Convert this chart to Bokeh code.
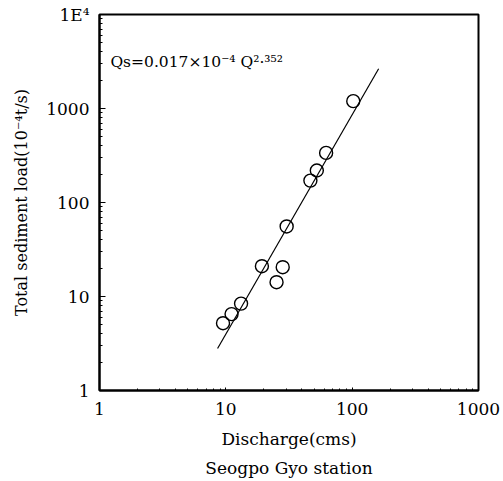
from bokeh.plotting import figure
from bokeh.models import Title, Label, FixedTicker
from bokeh.embed import file_html
from bokeh.resources import INLINE

# Data
discharge = [9.5, 11.1, 13.2, 19.3, 25.2, 28.2, 30.3, 46.7, 52.5, 62.2, 102]
sediment = [5.2, 6.5, 8.4, 21, 14.2, 20.5, 55.6, 171, 219, 337, 1197]
fit_q = [8.6, 162]
fit_qs = [2.8, 2650]

x_ticks = [1, 10, 100, 1000]
x_labels = ["1", "10", "100", "1000"]
y_ticks = [1, 10, 100, 1000, 10000]
y_labels = ["1", "10", "100", "1000", "1E⁴"]

FONT = "DejaVu Serif"

p = figure(width=503, height=481, x_axis_type="log", y_axis_type="log",
           x_range=(1, 1000), y_range=(1, 10000),
           output_backend="svg", toolbar_location=None,
           min_border_left=99, min_border_right=25,
           min_border_top=14, min_border_bottom=10)
p.background_fill_color = "white"
p.border_fill_color = "white"
p.outline_line_color = "black"
p.outline_line_width = 2
p.grid.visible = False

def minors(ticks):
    out = []
    for t in ticks[:-1]:
        out += [t * k for k in range(2, 10)]
    return out

p.xaxis.ticker = FixedTicker(ticks=x_ticks, minor_ticks=minors(x_ticks))
p.yaxis.ticker = FixedTicker(ticks=y_ticks, minor_ticks=minors(y_ticks))
p.xaxis.major_label_overrides = {t: l for t, l in zip(x_ticks, x_labels)}
p.yaxis.major_label_overrides = {t: l for t, l in zip(y_ticks, y_labels)}

for ax in (p.xaxis, p.yaxis):
    ax.axis_line_color = "black"
    ax.axis_line_width = 2
    ax.major_tick_out = 0
    ax.minor_tick_out = 0
    ax.major_label_text_font = FONT
    ax.major_label_text_font_size = "17px"
    ax.major_label_text_color = "black"
    ax.axis_label_text_font = FONT
    ax.axis_label_text_font_style = "normal"
    ax.axis_label_text_color = "black"
p.yaxis.major_tick_in = 6
p.yaxis.minor_tick_in = 3
p.xaxis.major_tick_in = 3
p.xaxis.minor_tick_in = 2
p.yaxis.major_label_standoff = 10
p.xaxis.major_label_standoff = 12

p.xaxis.axis_label = "Discharge(cms)"
p.xaxis.axis_label_text_font_size = "17px"
p.xaxis.axis_label_standoff = 11
p.yaxis.axis_label = "Total sediment load(10⁻⁴t/s)"
p.yaxis.axis_label_text_font_size = "16px"
p.yaxis.axis_label_standoff = 12

p.line(fit_q, fit_qs, line_color="black", line_width=1.2)
p.scatter(discharge, sediment, marker="circle", size=13, fill_color=None,
          line_color="black", line_width=1.4)

eq = Label(x=1.22, y=3090, text="Qs=0.017×10⁻⁴ Q²·³⁵²", text_font=FONT,
           text_font_size="15.5px", text_baseline="middle", text_color="black")
p.add_layout(eq)

p.add_layout(Title(text="Seogpo Gyo station", align="center", text_font=FONT,
                   text_font_size="17px", text_font_style="normal",
                   text_color="black", standoff=8), "below")

open("out.html", "w").write(file_html(p, INLINE))
